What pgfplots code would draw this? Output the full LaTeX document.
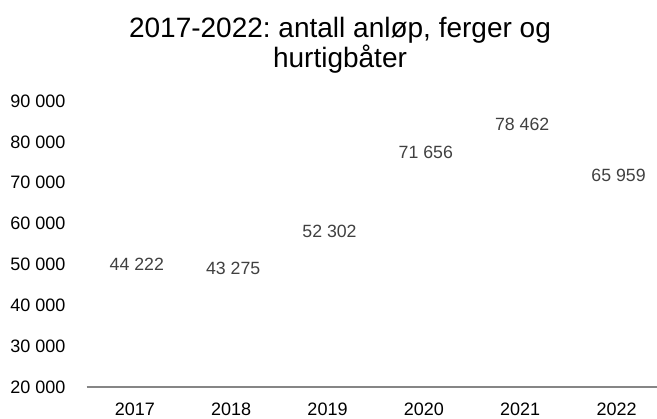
\documentclass[border=0pt]{standalone}
\usepackage{pgfplots}
\pgfplotsset{compat=1.18}
\usepackage{fontspec}
\setmainfont{Liberation Sans}
\frenchspacing
\definecolor{axisgray}{HTML}{868686}
\definecolor{labgray}{HTML}{404040}
\begin{document}
\frenchspacing
\begin{tikzpicture}
\useasboundingbox (0,0) rectangle (492.75pt,313.5pt);
\begin{axis}[
  at={(65pt,23.25pt)}, anchor=south west,
  scale only axis, width=427.75pt, height=214.5pt,
  xmin=-0.5, xmax=5.42, ymin=20000, ymax=90000,
  axis lines=left,
  axis line style={-},
  y axis line style={draw=none},
  x axis line style={draw=axisgray, line width=0.8pt},
  major tick length=0pt,
  scaled y ticks=false,
  xtick={0,1,2,3,4,5},
  xticklabels={2017,2018,2019,2020,2021,2022},
  ytick={20000,30000,40000,50000,60000,70000,80000,90000},
  /pgf/number format/assume math mode=true,
  /pgf/number format/.cd, 1000 sep={\ }, /pgfplots/.cd,
  yticklabel style={anchor=east, inner sep=0pt, xshift=-15.75pt, font=\fontsize{13.5pt}{16pt}\selectfont, text=black},
  xticklabel style={anchor=north, inner sep=0pt, yshift=-11.8pt, font=\fontsize{13.5pt}{16pt}\selectfont, text=black},
  clip=false,
]
\addplot[draw=none, mark=none, nodes near coords,
  nodes near coords style={anchor=center, yshift=18pt, xshift=1.5pt, inner sep=0pt, text=labgray, font=\fontsize{13.3pt}{16pt}\selectfont}]
  coordinates {(0,44222) (1,43275) (2,52302) (3,71656) (4,78462) (5,65959)};
\end{axis}
\node[anchor=base, font=\fontsize{21pt}{23.25pt}\selectfont] at (255pt,285.4pt) {2017-2022: antall anløp, ferger og};
\node[anchor=base, font=\fontsize{21pt}{23.25pt}\selectfont] at (255pt,262.5pt) {hurtigbåter};
\end{tikzpicture}
\end{document}
